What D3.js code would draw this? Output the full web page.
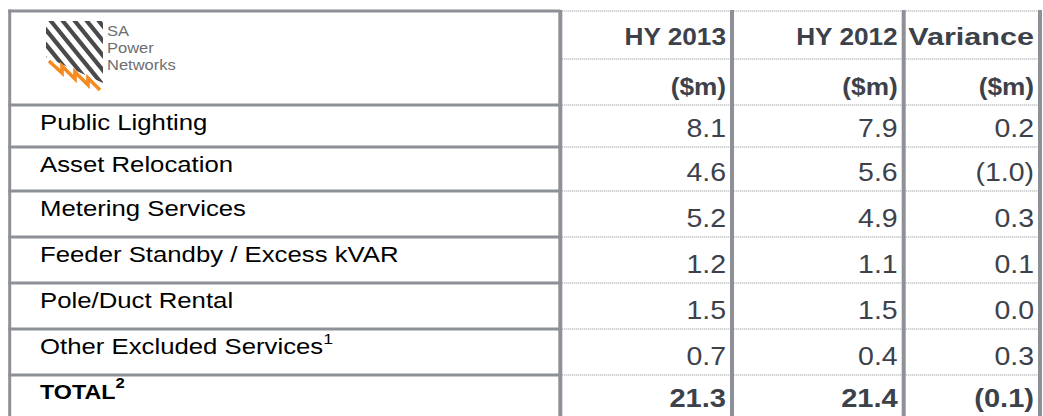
<!DOCTYPE html>
<html>
<head>
<meta charset="utf-8">
<script src="https://cdn.jsdelivr.net/npm/d3@7"></script>
<style>
  html, body { margin: 0; padding: 0; background: #ffffff; }
  svg { display: block; }
</style>
</head>
<body>
<div id="chart"></div>
<script>
// ---------- data ----------
const categories = ["Public Lighting", "Asset Relocation", "Metering Services",
  "Feeder Standby / Excess kVAR", "Pole/Duct Rental", "Other Excluded Services"];
const categoryNotes = ["", "", "", "", "", "1"];
const hy2013 = [8.1, 4.6, 5.2, 1.2, 1.5, 0.7];
const hy2012 = [7.9, 5.6, 4.9, 1.1, 1.5, 0.4];
const variance = [0.2, -1.0, 0.3, 0.1, 0.0, 0.3];
const totalLabel = "TOTAL";
const totalNote = "2";
const totals = [21.3, 21.4, -0.1];
const columnHeaders = ["HY 2013", "HY 2012", "Variance"];
const unitLabels = ["($m)", "($m)", "($m)"];
const logoWords = ["SA", "Power", "Networks"];

// ---------- layout ----------
const W = 1043, H = 416;
const svg = d3.select("#chart").append("svg").attr("width", W).attr("height", H);

const colKeys = ["left", "c1", "c2", "c3", "right"];
const x = d3.scaleOrdinal().domain(colKeys).range([9.7, 560.3, 732, 903.7, 1040]);
// row boundaries (index -> y)
const y = d3.scaleLinear().domain([0, 1, 2, 3, 4, 5, 6, 7, 8, 9])
  .range([11, 59, 105, 147, 191, 237, 283, 329, 375, 421]);

const lineCol = "#8e9098";
const dotCol = "#c4c5c8";
const valCol = "#3c414a";
const SX = 1.14;
const FONT = "'Liberation Sans', Arial, sans-serif";

const fmt = d3.format(".1f");
const fmtVal = v => v < 0 ? "(" + fmt(-v) + ")" : fmt(v);

// ---------- grid lines ----------
const g = svg.append("g");
// label column horizontal thick lines (top border + rows, skip line between two header rows)
[0, 2, 3, 4, 5, 6, 7, 8].forEach(i => {
  g.append("line").attr("x1", x("left") - 1.5).attr("x2", x("c1"))
    .attr("y1", y(i)).attr("y2", y(i))
    .attr("stroke", lineCol).attr("stroke-width", 3);
});
// value columns dotted lines
[0, 1, 2, 3, 4, 5, 6, 7, 8].forEach(i => {
  g.append("line").attr("x1", x("c1") + 2).attr("x2", x("right") - 2)
    .attr("y1", y(i)).attr("y2", y(i))
    .attr("stroke", dotCol).attr("stroke-width", 2)
    .attr("stroke-dasharray", "1,1");
});
// vertical lines
g.append("line").attr("x1", x("left")).attr("x2", x("left"))
  .attr("y1", y(0) - 1.5).attr("y2", H).attr("stroke", lineCol).attr("stroke-width", 3);
["c1", "c2", "c3", "right"].forEach(k => {
  g.append("line").attr("x1", x(k)).attr("x2", x(k))
    .attr("y1", y(0) - 1).attr("y2", H).attr("stroke", lineCol).attr("stroke-width", 4);
});

// ---------- text helper ----------
function txt(parent, px, py, s, opts) {
  const t = parent.append("text")
    .attr("transform", `translate(${px},${py}) scale(${opts.sx || SX},1)`)
    .attr("font-family", FONT)
    .attr("font-size", opts.size)
    .attr("font-weight", opts.bold ? "bold" : "normal")
    .attr("fill", opts.fill)
    .attr("text-anchor", opts.anchor || "start")
    .text(s);
  return t;
}

const valueCols = ["c2", "c3", "right"];
const colRight = k => x(k) - 6;
const headerStretch = [1.14, 1.14, 1.33];

// header rows
columnHeaders.forEach((h, i) => {
  txt(svg, colRight(valueCols[i]), y(1) - 14, h,
    { size: 23, bold: true, fill: valCol, anchor: "end", sx: headerStretch[i] });
});
unitLabels.forEach((h, i) => {
  txt(svg, colRight(valueCols[i]), y(2) - 10, h, { size: 23, bold: true, fill: valCol, anchor: "end" });
});

// data rows
const seriesList = [hy2013, hy2012, variance];
categories.forEach((c, r) => {
  const top = y(r + 2), bot = y(r + 3);
  const t = txt(svg, 40, top + 24.5, c, { size: 22, fill: "#000", sx: 1.17 });
  if (categoryNotes[r]) {
    t.append("tspan").attr("font-size", 15).attr("dy", -10).text(categoryNotes[r]);
  }
  seriesList.forEach((s, j) => {
    txt(svg, colRight(valueCols[j]), bot - 10, fmtVal(s[r]), { size: 25, fill: valCol, anchor: "end" });
  });
});

// total row
{
  const top = y(8);
  const t = txt(svg, 40, top + 23.5, totalLabel, { size: 21, bold: true, fill: "#000", sx: 1.11 });
  t.append("tspan").attr("font-size", 15).attr("dy", -11).text(totalNote);
  totals.forEach((v, j) => {
    txt(svg, colRight(valueCols[j]), top + 31.5, fmtVal(v), { size: 25.5, bold: true, fill: valCol, anchor: "end" });
  });
}

// ---------- logo ----------
const logo = svg.append("g");
const defs = svg.append("defs");
defs.append("clipPath").attr("id", "stripeClip")
  .append("polygon").attr("points", "46,21 103,21 103,83 46,57");
const stripes = logo.append("g").attr("clip-path", "url(#stripeClip)");
const slope = 1.23;
d3.range(-6, 6).forEach(k => {
  const x0 = 50 + 12 * k;
  stripes.append("line")
    .attr("x1", x0).attr("y1", 20)
    .attr("x2", x0 + 90 / slope).attr("y2", 110)
    .attr("stroke", "#4a4a4c").attr("stroke-width", 4.2);
});
logo.append("polyline")
  .attr("points", "49,61 62,73 62,66 75,79 75,72 88,85 88,78 100,90")
  .attr("fill", "none").attr("stroke", "#f58a1f").attr("stroke-width", 3.6)
  .attr("stroke-linejoin", "miter");
logoWords.forEach((w, i) => {
  logo.append("text")
    .attr("transform", `translate(107,${35.5 + i * 17.3}) scale(1.1,1)`)
    .attr("font-family", FONT)
    .attr("font-size", 15).attr("fill", "#6d6e71")
    .text(w);
});
</script>
</body>
</html>
